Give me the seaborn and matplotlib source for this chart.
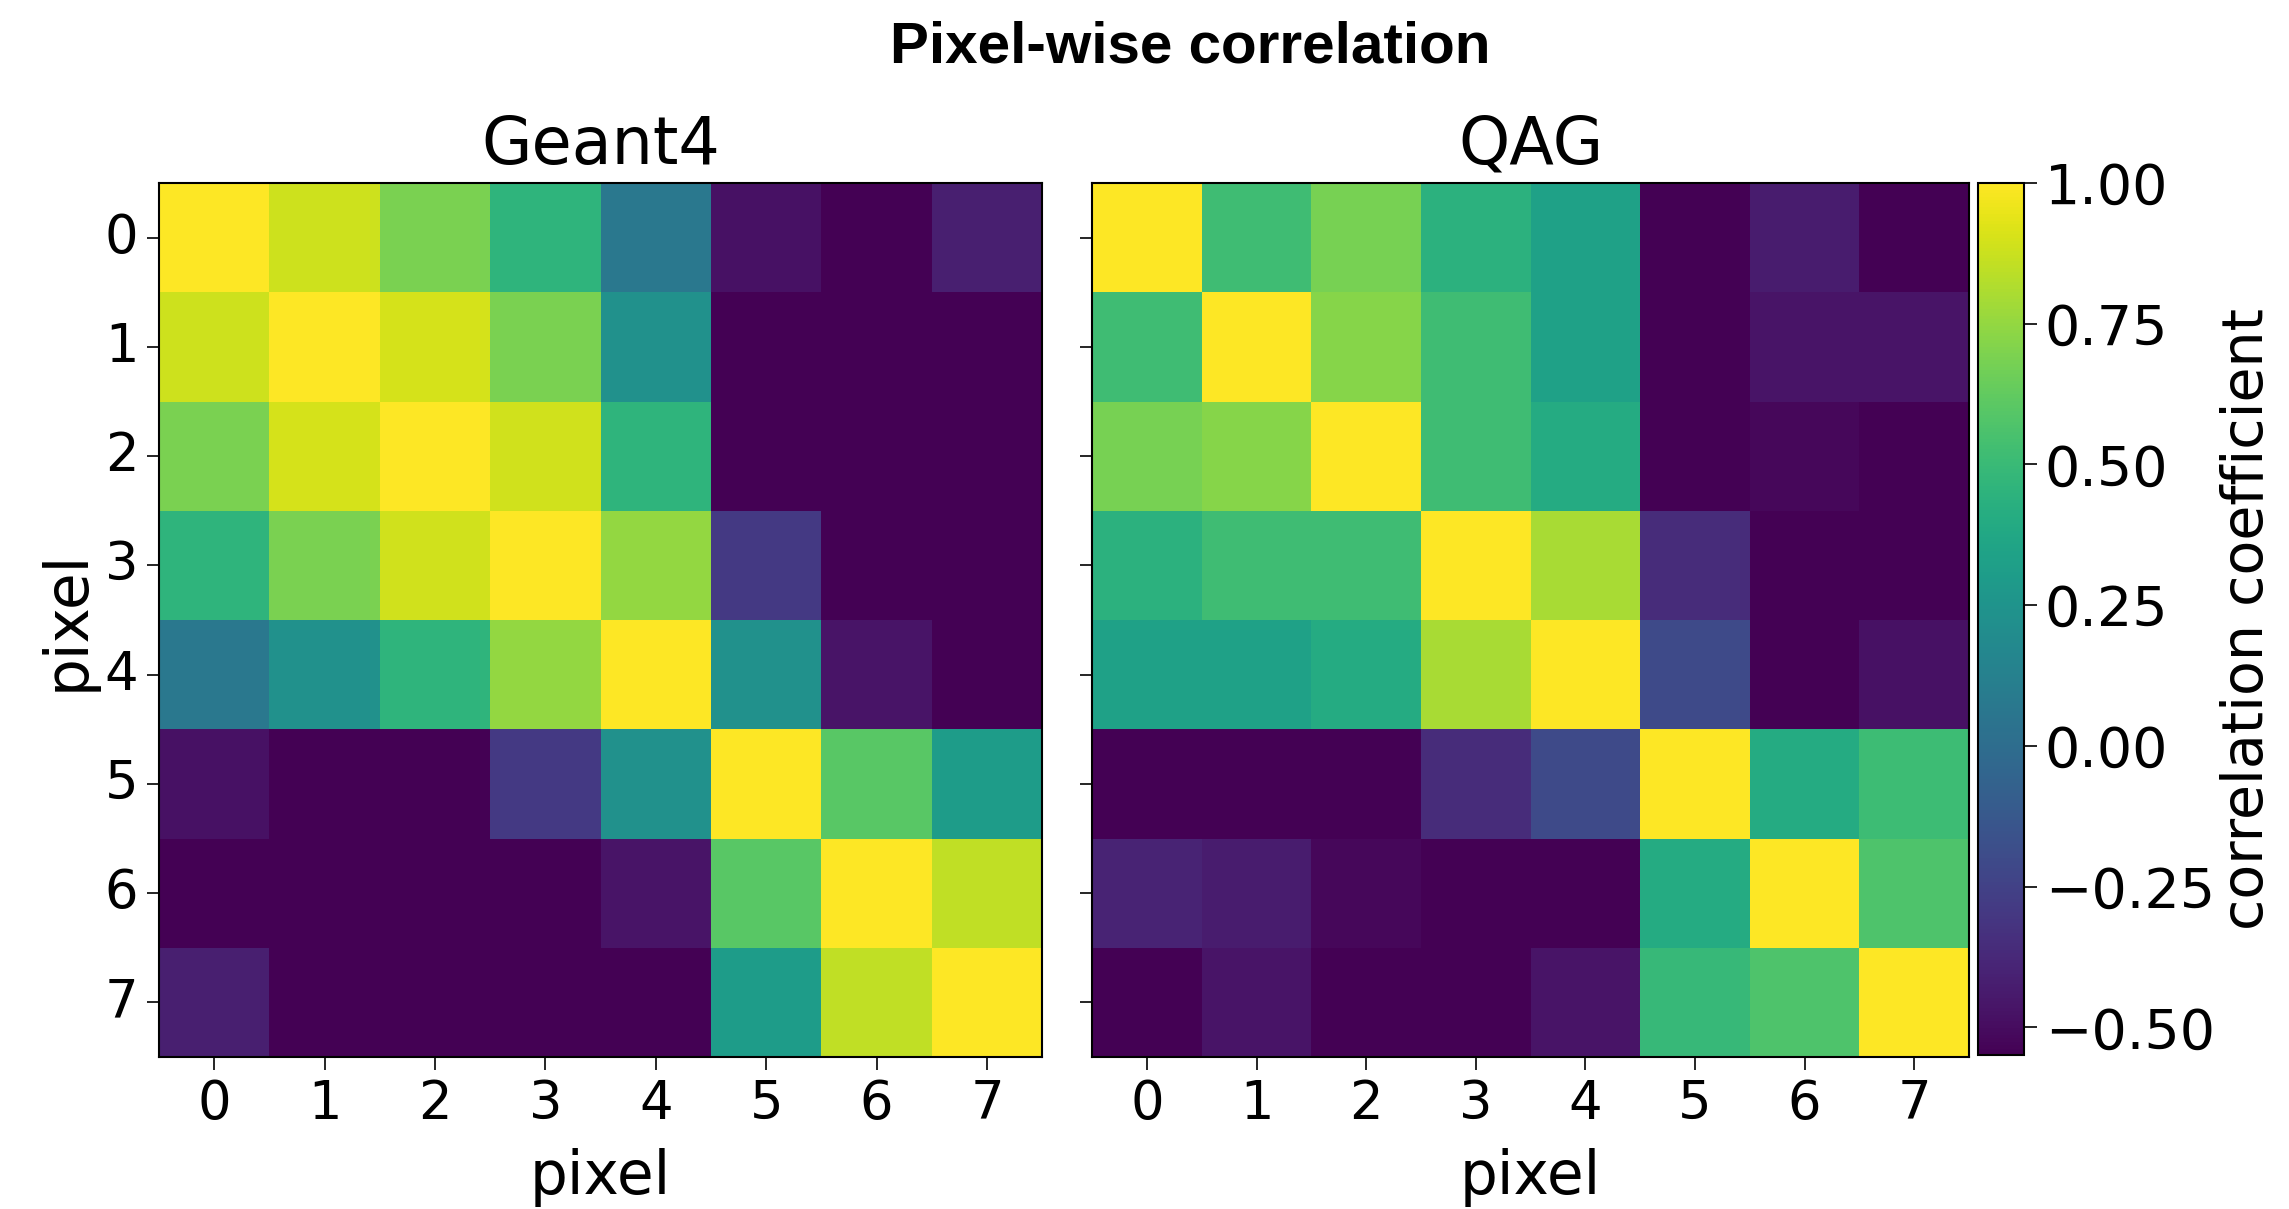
import numpy as np
import pandas as pd
import matplotlib
matplotlib.use("Agg")
import matplotlib.pyplot as plt
import seaborn as sns

pixels = [0, 1, 2, 3, 4, 5, 6, 7]
panel_titles = ["Geant4", "QAG"]
cbar_ticks = [-0.50, -0.25, 0.00, 0.25, 0.50, 0.75, 1.00]

geant4_rows = [
    [1.00, 0.88, 0.69, 0.46, 0.07, -0.48, -0.60, -0.42],
    [0.88, 1.00, 0.90, 0.69, 0.23, -0.60, -0.60, -0.60],
    [0.69, 0.90, 1.00, 0.89, 0.46, -0.60, -0.60, -0.60],
    [0.46, 0.69, 0.89, 1.00, 0.75, -0.29, -0.60, -0.60],
    [0.07, 0.23, 0.46, 0.75, 1.00, 0.23, -0.47, -0.60],
    [-0.48, -0.60, -0.60, -0.29, 0.23, 1.00, 0.60, 0.30],
    [-0.60, -0.60, -0.60, -0.60, -0.47, 0.60, 1.00, 0.85],
    [-0.42, -0.60, -0.60, -0.60, -0.60, 0.30, 0.85, 1.00],
]

qag_rows = [
    [1.00, 0.52, 0.68, 0.44, 0.34, -0.60, -0.43, -0.60],
    [0.52, 1.00, 0.72, 0.52, 0.34, -0.60, -0.47, -0.47],
    [0.68, 0.72, 1.00, 0.52, 0.40, -0.60, -0.52, -0.60],
    [0.44, 0.52, 0.52, 1.00, 0.80, -0.36, -0.60, -0.60],
    [0.34, 0.34, 0.40, 0.80, 1.00, -0.20, -0.60, -0.48],
    [-0.60, -0.60, -0.60, -0.36, -0.20, 1.00, 0.40, 0.51],
    [-0.40, -0.43, -0.52, -0.60, -0.60, 0.40, 1.00, 0.57],
    [-0.60, -0.47, -0.60, -0.60, -0.47, 0.49, 0.57, 1.00],
]

VMIN, VMAX = -0.55, 1.00

sns.set_theme(style="white")
plt.rcParams['font.family'] = ['DejaVu Sans']
plt.rcParams['axes.unicode_minus'] = True
for key in ['text.color', 'axes.labelcolor', 'xtick.color', 'ytick.color']:
    plt.rcParams[key] = 'black'

fig = plt.figure(figsize=(22.89, 12.09), dpi=100)
ax1 = fig.add_axes([0.0695, 0.1257, 0.3858, 0.7229])
ax2 = fig.add_axes([0.4771, 0.1257, 0.3831, 0.7229])
cax = fig.add_axes([0.8641, 0.1270, 0.0201, 0.7216])

dfs = [pd.DataFrame(geant4_rows, index=pixels, columns=pixels),
       pd.DataFrame(qag_rows, index=pixels, columns=pixels)]

for i, (ax, df, title) in enumerate(zip([ax1, ax2], dfs, panel_titles)):
    sns.heatmap(df, ax=ax, cmap="viridis", vmin=VMIN, vmax=VMAX,
                cbar=(i == 1), cbar_ax=(cax if i == 1 else None),
                cbar_kws={"ticks": cbar_ticks} if i == 1 else None)
    ax.set_title(title, fontsize=47, pad=14, color="black")
    ax.set_xlabel("pixel", fontsize=43, labelpad=13, color="black")
    for sp in ax.spines.values():
        sp.set_visible(True)
        sp.set_color("black")
        sp.set_linewidth(1.5)
    ax.tick_params(axis="both", which="both", direction="out", length=9,
                   width=1.2, color="black", labelcolor="black", labelsize=38, pad=6,
                   bottom=True, left=True)
    ax.set_xticklabels([str(p) for p in pixels], rotation=0)
    if i == 0:
        ax.set_ylabel("pixel", fontsize=43, labelpad=6, color="black")
        ax.set_yticklabels([str(p) for p in pixels], rotation=0)
    else:
        ax.set_ylabel("")
        ax.set_yticklabels([])

cbar = ax2.collections[0].colorbar
cbar.outline.set_visible(True)
cbar.outline.set_edgecolor("black")
cbar.outline.set_linewidth(1.5)
cbar.ax.tick_params(labelsize=40, length=9, width=1.2, color="black",
                    labelcolor="black", right=True, pad=6)
cbar.ax.set_yticklabels([f"{t:.2f}".replace("-", "\u2212") for t in cbar_ticks])
cbar.set_label("correlation coefficient", fontsize=41, labelpad=4, color="black")

fig.text(0.52, 0.961, "Pixel-wise correlation", ha="center", va="center",
         fontsize=42, fontweight="bold", color="black",
         family=["Liberation Sans", "DejaVu Sans"])

fig.savefig("out.png", dpi=100)
